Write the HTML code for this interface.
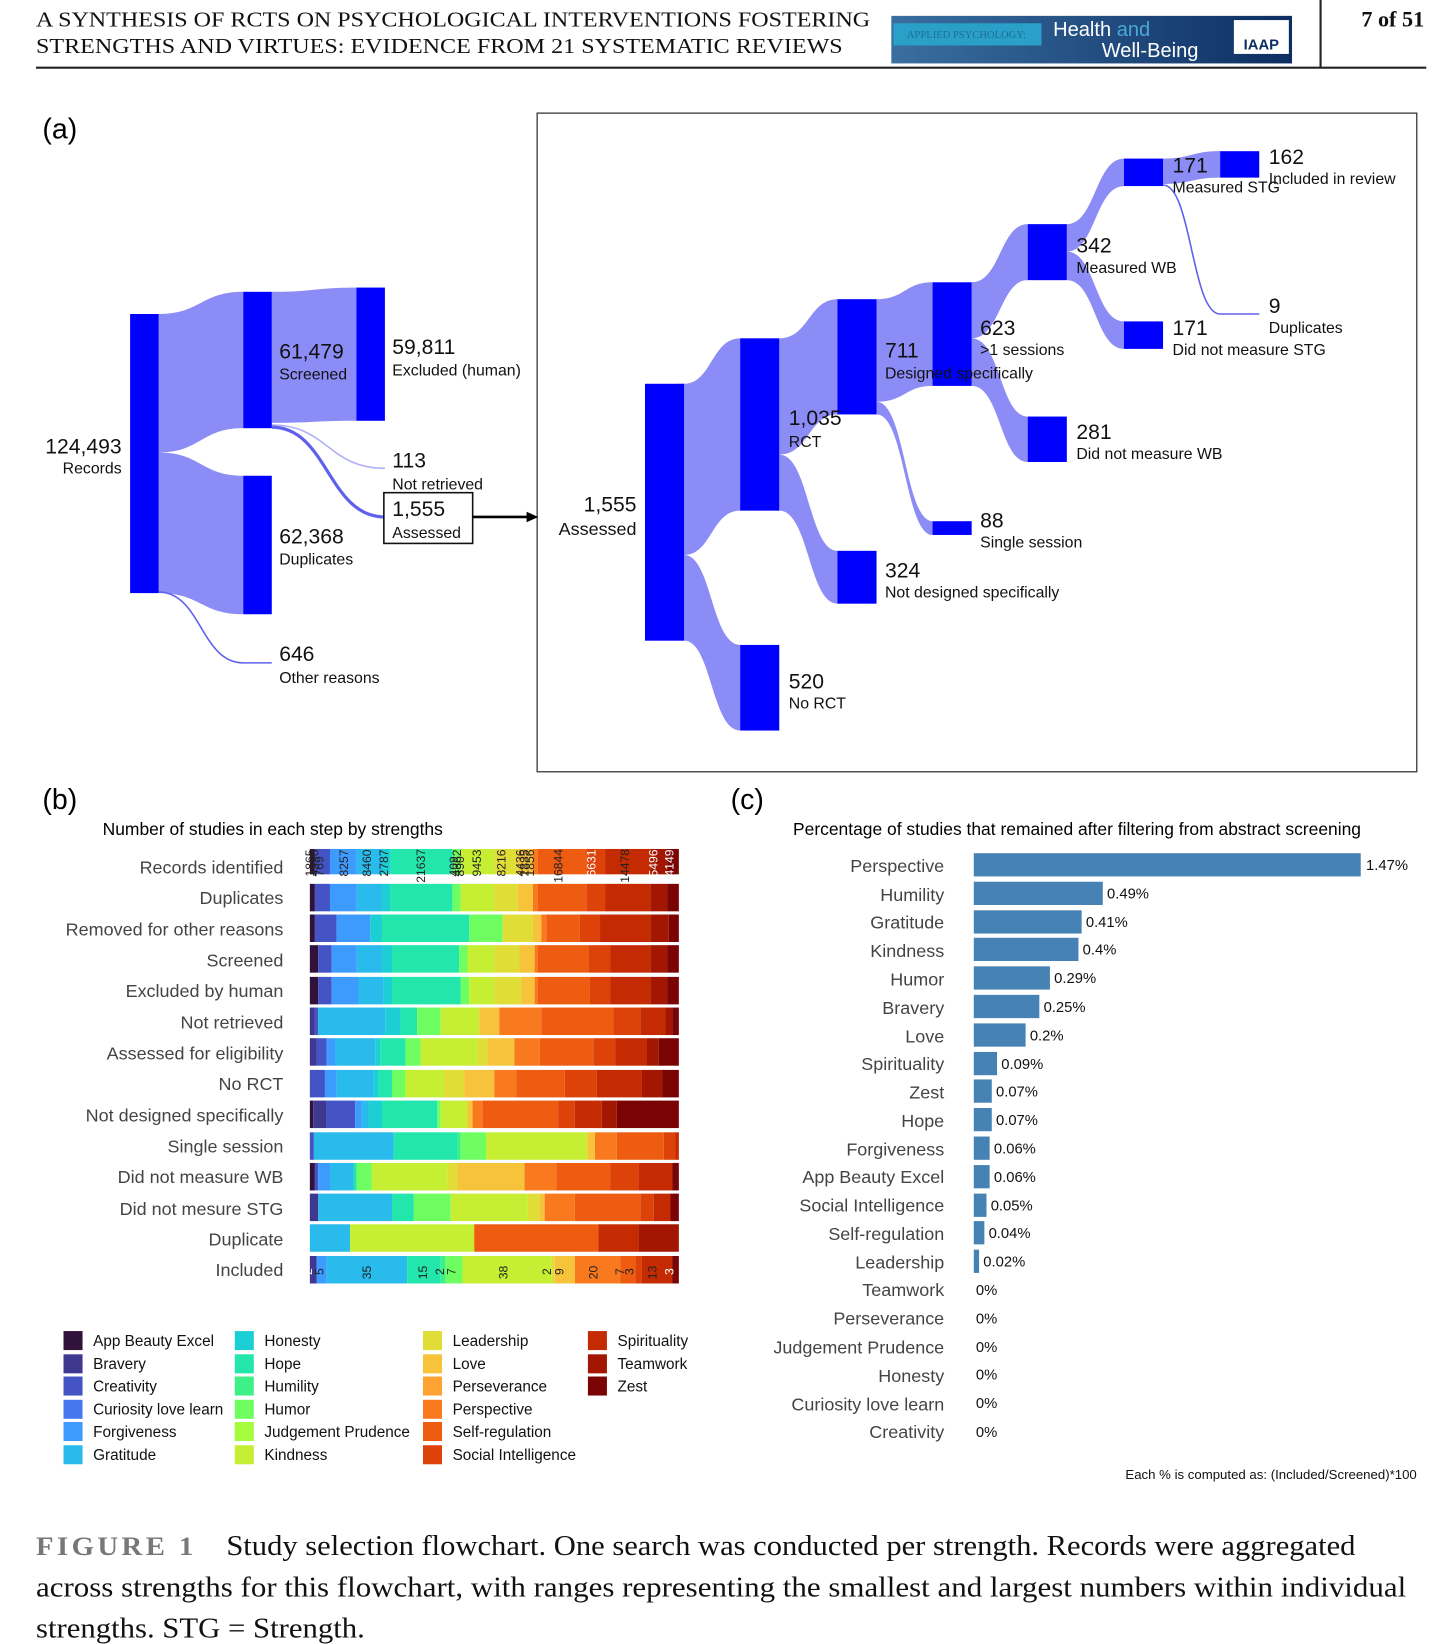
<!DOCTYPE html>
<html><head><meta charset="utf-8"><style>html,body{margin:0;padding:0;background:#fff}svg{display:block}</style></head><body>
<svg width="1438" height="1644" viewBox="0 0 1360 1555" xmlns="http://www.w3.org/2000/svg" font-family="Liberation Sans, sans-serif">
<defs><linearGradient id="lg" x1="0" x2="1"><stop offset="0" stop-color="#3a6fa0"/><stop offset="1" stop-color="#0d2e62"/></linearGradient></defs>
<!-- header -->
<g font-family="Liberation Serif, serif" font-size="20" fill="#111">
<text x="34" y="25" textLength="789" lengthAdjust="spacingAndGlyphs">A SYNTHESIS OF RCTS ON PSYCHOLOGICAL INTERVENTIONS FOSTERING</text>
<text x="34" y="50" textLength="763" lengthAdjust="spacingAndGlyphs">STRENGTHS AND VIRTUES: EVIDENCE FROM 21 SYSTEMATIC REVIEWS</text>
<text x="1347" y="25" text-anchor="end" font-weight="bold" font-size="21">7 of 51</text>
</g>
<rect x="843" y="15" width="379" height="45" fill="url(#lg)"/>
<rect x="845" y="22" width="140" height="21" fill="#2aa0c8"/>
<text x="914" y="36" font-family="Liberation Serif, serif" font-size="10" fill="#1a6f96" text-anchor="middle">APPLIED PSYCHOLOGY:</text>
<text x="996" y="34" font-size="19" fill="#fff">Health <tspan fill="#4aa8d8">and</tspan></text>
<text x="1042" y="54" font-size="19" fill="#fff">Well-Being</text>
<rect x="1167" y="19" width="52" height="32" fill="#fff"/>
<text x="1193" y="47" font-size="14" font-weight="bold" fill="#0d2e62" text-anchor="middle">IAAP</text>
<line x1="1249" y1="0" x2="1249" y2="64" stroke="#222" stroke-width="2"/>
<line x1="34" y1="64" x2="1349" y2="64" stroke="#222" stroke-width="2"/>

<!-- (a) -->
<text x="40" y="131" font-size="27">(a)</text>
<rect x="508" y="107" width="832" height="623" fill="none" stroke="#333" stroke-width="1.2"/>
<g fill="#8c8cf7" stroke="none">
<path d="M150 297 C190 297,190 276,230 276 L230 405 C190 405,190 428,150 428Z"/>
<path d="M150 428 C190 428,190 450,230 450 L230 581 C190 581,190 561,150 561Z"/>
<path d="M257 276 C297 276,297 272,337 272 L337 398 C297 398,297 400,257 400Z"/>
<path d="M647 363 C673 363,673 320,700 320 L700 483 C673 483,673 525,647 525Z"/>
<path d="M610 380 C620 362,640 363,647 363 L647 380Z"/>
<path d="M647 525 C673 525,673 610,700 610 L700 691 C673 691,673 606,647 606Z"/>
<path d="M737 320 C765 320,765 283,792 283 L792 392 C765 392,765 430,737 430Z"/>
<path d="M737 430 C765 430,765 521,792 521 L792 571 C765 571,765 483,737 483Z"/>
<path d="M829 283 C856 283,856 267,882 267 L882 365 C856 365,856 380,829 380Z"/>
<path d="M829 380 C856 380,856 493,882 493 L882 506 C856 506,856 392,829 392Z"/>
<path d="M919 267 C946 267,946 212,972 212 L972 265 C946 265,946 320,919 320Z"/>
<path d="M919 320 C946 320,946 394,972 394 L972 437 C946 437,946 365,919 365Z"/>
<path d="M1009 212 C1036 212,1036 150,1063 150 L1063 176 C1036 176,1036 238,1009 238Z"/>
<path d="M1009 238 C1036 238,1036 304,1063 304 L1063 330 C1036 330,1036 265,1009 265Z"/>
<path d="M1100 150 C1127 150,1127 143,1154 143 L1154 168 C1127 168,1127 174,1100 174Z"/>
</g>
<g fill="none" stroke="#8c8cf7">
<path d="M257 402 C310 402,310 443,364 443" stroke-width="1.5" stroke="#b0b0f5"/>
<path d="M257 404 C310 404,310 489,364 489" stroke-width="3" stroke="#6060ee"/>
<path d="M150 560 C190 560,190 627,230 627 L257 627" stroke-width="1.5" stroke="#6060ee"/>
<path d="M1100 175 C1127 175,1127 297,1154 297 L1191 297" stroke-width="1.5" stroke="#6060ee"/>
</g>
<g fill="#0000ff">
<rect x="123" y="297" width="27" height="264"/>
<rect x="230" y="276" width="27" height="129"/>
<rect x="230" y="450" width="27" height="131"/>
<rect x="337" y="272" width="27" height="126"/>
<rect x="610" y="363" width="37" height="243"/>
<rect x="700" y="320" width="37" height="163"/>
<rect x="700" y="610" width="37" height="81"/>
<rect x="792" y="283" width="37" height="109"/>
<rect x="792" y="521" width="37" height="50"/>
<rect x="882" y="267" width="37" height="98"/>
<rect x="882" y="493" width="37" height="13"/>
<rect x="972" y="212" width="37" height="53"/>
<rect x="972" y="394" width="37" height="43"/>
<rect x="1063" y="150" width="37" height="26"/>
<rect x="1063" y="304" width="37" height="26"/>
<rect x="1154" y="143" width="37" height="25"/>
</g>
<rect x="363" y="466" width="84" height="48" fill="#fff" stroke="#111" stroke-width="1.5"/>
<line x1="447" y1="489" x2="500" y2="489" stroke="#000" stroke-width="2.5"/>
<path d="M509 489 L498 484 L498 494Z" fill="#000"/>
<g fill="#111">
<g font-size="20">
<text x="115" y="429" text-anchor="end">124,493</text>
<text x="264" y="339">61,479</text>
<text x="371" y="335">59,811</text>
<text x="371" y="442">113</text>
<text x="371" y="488">1,555</text>
<text x="264" y="514">62,368</text>
<text x="264" y="625">646</text>
<text x="602" y="484" text-anchor="end">1,555</text>
<text x="746" y="402">1,035</text>
<text x="746" y="651">520</text>
<text x="837" y="338">711</text>
<text x="837" y="546">324</text>
<text x="927" y="317">623</text>
<text x="927" y="499">88</text>
<text x="1018" y="239">342</text>
<text x="1018" y="415">281</text>
<text x="1109" y="163">171</text>
<text x="1109" y="317">171</text>
<text x="1200" y="155">162</text>
<text x="1200" y="296">9</text>
</g>
<g font-size="15">
<text x="115" y="448" text-anchor="end">Records</text>
<text x="264" y="359">Screened</text>
<text x="371" y="355">Excluded (human)</text>
<text x="371" y="463">Not retrieved</text>
<text x="371" y="509">Assessed</text>
<text x="264" y="534">Duplicates</text>
<text x="264" y="646">Other reasons</text>
<text x="602" y="506" text-anchor="end" font-size="17">Assessed</text>
<text x="746" y="423">RCT</text>
<text x="746" y="670">No RCT</text>
<text x="837" y="358">Designed specifically</text>
<text x="837" y="565">Not designed specifically</text>
<text x="927" y="336">&gt;1 sessions</text>
<text x="927" y="518">Single session</text>
<text x="1018" y="258">Measured WB</text>
<text x="1018" y="434">Did not measure WB</text>
<text x="1109" y="182">Measured STG</text>
<text x="1109" y="336">Did not measure STG</text>
<text x="1200" y="174">Included in review</text>
<text x="1200" y="315">Duplicates</text>
</g>
</g>

<!-- (b) -->
<text x="40" y="765" font-size="27">(b)</text>
<text x="97" y="790" font-size="16.5">Number of studies in each step by strengths</text>
<g font-size="17" fill="#444" text-anchor="end">
<text x="268" y="826">Records identified</text>
<text x="268" y="855">Duplicates</text>
<text x="268" y="885">Removed for other reasons</text>
<text x="268" y="914">Screened</text>
<text x="268" y="943">Excluded by human</text>
<text x="268" y="973">Not retrieved</text>
<text x="268" y="1002">Assessed for eligibility</text>
<text x="268" y="1031">No RCT</text>
<text x="268" y="1061">Not designed specifically</text>
<text x="268" y="1090">Single session</text>
<text x="268" y="1119">Did not measure WB</text>
<text x="268" y="1149">Did not mesure STG</text>
<text x="268" y="1178">Duplicate</text>
<text x="268" y="1207">Included</text>
</g>
<g transform="translate(293,0) scale(0.3173,1)">
<g transform="translate(0,803)">
<rect x="0" width="15" height="24" fill="#30123b"/><rect x="15" width="45" height="24" fill="#4454c4"/><rect x="60" width="80" height="24" fill="#3e9bfe"/><rect x="140" width="75" height="24" fill="#28bbec"/><rect x="215" width="25" height="24" fill="#1bcfd4"/><rect x="240" width="185" height="24" fill="#22e6ac"/><rect x="425" width="25" height="24" fill="#6efe61"/><rect x="450" width="100" height="24" fill="#c6ef34"/><rect x="550" width="70" height="24" fill="#e1dd37"/><rect x="620" width="45" height="24" fill="#f6c33a"/><rect x="665" width="15" height="24" fill="#f9791e"/><rect x="680" width="145" height="24" fill="#ee5c12"/><rect x="825" width="55" height="24" fill="#dd4309"/><rect x="880" width="135" height="24" fill="#c52b03"/><rect x="1015" width="50" height="24" fill="#a31601"/><rect x="1065" width="35" height="24" fill="#7a0403"/>
</g>
<g transform="translate(0,836)">
<rect x="0" width="15" height="26" fill="#30123b"/><rect x="15" width="45" height="26" fill="#4454c4"/><rect x="60" width="80" height="26" fill="#3e9bfe"/><rect x="140" width="75" height="26" fill="#28bbec"/><rect x="215" width="25" height="26" fill="#1bcfd4"/><rect x="240" width="185" height="26" fill="#22e6ac"/><rect x="425" width="25" height="26" fill="#6efe61"/><rect x="450" width="100" height="26" fill="#c6ef34"/><rect x="550" width="70" height="26" fill="#e1dd37"/><rect x="620" width="45" height="26" fill="#f6c33a"/><rect x="665" width="15" height="26" fill="#f9791e"/><rect x="680" width="145" height="26" fill="#ee5c12"/><rect x="825" width="55" height="26" fill="#dd4309"/><rect x="880" width="135" height="26" fill="#c52b03"/><rect x="1015" width="50" height="26" fill="#a31601"/><rect x="1065" width="35" height="26" fill="#7a0403"/>
</g>
<g transform="translate(0,865)">
<rect x="0" width="15" height="26" fill="#30123b"/><rect x="15" width="65" height="26" fill="#4454c4"/><rect x="80" width="100" height="26" fill="#3e9bfe"/><rect x="180" width="35" height="26" fill="#1bcfd4"/><rect x="215" width="260" height="26" fill="#22e6ac"/><rect x="475" width="100" height="26" fill="#6efe61"/><rect x="575" width="90" height="26" fill="#e1dd37"/><rect x="665" width="25" height="26" fill="#f6c33a"/><rect x="690" width="15" height="26" fill="#f9791e"/><rect x="705" width="100" height="26" fill="#ee5c12"/><rect x="805" width="60" height="26" fill="#dd4309"/><rect x="865" width="150" height="26" fill="#c52b03"/><rect x="1015" width="55" height="26" fill="#a31601"/><rect x="1070" width="30" height="26" fill="#7a0403"/>
</g>
<g transform="translate(0,894)">
<rect x="0" width="25" height="26" fill="#30123b"/><rect x="25" width="40" height="26" fill="#4454c4"/><rect x="65" width="75" height="26" fill="#3e9bfe"/><rect x="140" width="75" height="26" fill="#28bbec"/><rect x="215" width="30" height="26" fill="#1bcfd4"/><rect x="245" width="200" height="26" fill="#22e6ac"/><rect x="445" width="25" height="26" fill="#6efe61"/><rect x="470" width="80" height="26" fill="#c6ef34"/><rect x="550" width="75" height="26" fill="#e1dd37"/><rect x="625" width="45" height="26" fill="#f6c33a"/><rect x="670" width="10" height="26" fill="#f9791e"/><rect x="680" width="150" height="26" fill="#ee5c12"/><rect x="830" width="65" height="26" fill="#dd4309"/><rect x="895" width="120" height="26" fill="#c52b03"/><rect x="1015" width="50" height="26" fill="#a31601"/><rect x="1065" width="35" height="26" fill="#7a0403"/>
</g>
<g transform="translate(0,924)">
<rect x="0" width="25" height="26" fill="#30123b"/><rect x="25" width="40" height="26" fill="#4454c4"/><rect x="65" width="80" height="26" fill="#3e9bfe"/><rect x="145" width="75" height="26" fill="#28bbec"/><rect x="220" width="25" height="26" fill="#1bcfd4"/><rect x="245" width="205" height="26" fill="#22e6ac"/><rect x="450" width="25" height="26" fill="#6efe61"/><rect x="475" width="75" height="26" fill="#c6ef34"/><rect x="550" width="80" height="26" fill="#e1dd37"/><rect x="630" width="40" height="26" fill="#f6c33a"/><rect x="670" width="10" height="26" fill="#f9791e"/><rect x="680" width="155" height="26" fill="#ee5c12"/><rect x="835" width="60" height="26" fill="#dd4309"/><rect x="895" width="120" height="26" fill="#c52b03"/><rect x="1015" width="50" height="26" fill="#a31601"/><rect x="1065" width="35" height="26" fill="#7a0403"/>
</g>
<g transform="translate(0,953)">
<rect x="0" width="15" height="26" fill="#3e3891"/><rect x="15" width="10" height="26" fill="#4454c4"/><rect x="25" width="200" height="26" fill="#28bbec"/><rect x="225" width="45" height="26" fill="#1bcfd4"/><rect x="270" width="50" height="26" fill="#22e6ac"/><rect x="320" width="70" height="26" fill="#6efe61"/><rect x="390" width="115" height="26" fill="#c6ef34"/><rect x="505" width="60" height="26" fill="#f6c33a"/><rect x="565" width="125" height="26" fill="#f9791e"/><rect x="690" width="215" height="26" fill="#ee5c12"/><rect x="905" width="80" height="26" fill="#dd4309"/><rect x="985" width="75" height="26" fill="#c52b03"/><rect x="1060" width="20" height="26" fill="#a31601"/><rect x="1080" width="20" height="26" fill="#7a0403"/>
</g>
<g transform="translate(0,982)">
<rect x="0" width="20" height="26" fill="#3e3891"/><rect x="20" width="30" height="26" fill="#4454c4"/><rect x="50" width="25" height="26" fill="#3e9bfe"/><rect x="75" width="120" height="26" fill="#28bbec"/><rect x="195" width="15" height="26" fill="#1bcfd4"/><rect x="210" width="75" height="26" fill="#22e6ac"/><rect x="285" width="45" height="26" fill="#6efe61"/><rect x="330" width="170" height="26" fill="#c6ef34"/><rect x="500" width="30" height="26" fill="#e1dd37"/><rect x="530" width="80" height="26" fill="#f6c33a"/><rect x="610" width="75" height="26" fill="#f9791e"/><rect x="685" width="160" height="26" fill="#ee5c12"/><rect x="845" width="65" height="26" fill="#dd4309"/><rect x="910" width="95" height="26" fill="#c52b03"/><rect x="1005" width="35" height="26" fill="#a31601"/><rect x="1040" width="60" height="26" fill="#7a0403"/>
</g>
<g transform="translate(0,1012)">
<rect x="0" width="45" height="26" fill="#4454c4"/><rect x="45" width="35" height="26" fill="#3e9bfe"/><rect x="80" width="110" height="26" fill="#28bbec"/><rect x="190" width="15" height="26" fill="#1bcfd4"/><rect x="205" width="40" height="26" fill="#22e6ac"/><rect x="245" width="40" height="26" fill="#6efe61"/><rect x="285" width="115" height="26" fill="#c6ef34"/><rect x="400" width="60" height="26" fill="#e1dd37"/><rect x="460" width="90" height="26" fill="#f6c33a"/><rect x="550" width="65" height="26" fill="#f9791e"/><rect x="615" width="145" height="26" fill="#ee5c12"/><rect x="760" width="95" height="26" fill="#dd4309"/><rect x="855" width="135" height="26" fill="#c52b03"/><rect x="990" width="60" height="26" fill="#a31601"/><rect x="1050" width="50" height="26" fill="#7a0403"/>
</g>
<g transform="translate(0,1041)">
<rect x="0" width="10" height="26" fill="#30123b"/><rect x="10" width="40" height="26" fill="#3e3891"/><rect x="50" width="85" height="26" fill="#4454c4"/><rect x="135" width="20" height="26" fill="#3e9bfe"/><rect x="155" width="20" height="26" fill="#28bbec"/><rect x="175" width="40" height="26" fill="#1bcfd4"/><rect x="215" width="165" height="26" fill="#22e6ac"/><rect x="380" width="10" height="26" fill="#6efe61"/><rect x="390" width="80" height="26" fill="#c6ef34"/><rect x="470" width="15" height="26" fill="#f6c33a"/><rect x="485" width="30" height="26" fill="#f9791e"/><rect x="515" width="225" height="26" fill="#ee5c12"/><rect x="740" width="50" height="26" fill="#dd4309"/><rect x="790" width="80" height="26" fill="#c52b03"/><rect x="870" width="45" height="26" fill="#a31601"/><rect x="915" width="185" height="26" fill="#7a0403"/>
</g>
<g transform="translate(0,1071)">
<rect x="0" width="12" height="26" fill="#4454c4"/><rect x="12" width="238" height="26" fill="#28bbec"/><rect x="250" width="190" height="26" fill="#22e6ac"/><rect x="440" width="10" height="26" fill="#3ef186"/><rect x="450" width="75" height="26" fill="#6efe61"/><rect x="525" width="302" height="26" fill="#c6ef34"/><rect x="827" width="23" height="26" fill="#f6c33a"/><rect x="850" width="65" height="26" fill="#f9791e"/><rect x="915" width="140" height="26" fill="#ee5c12"/><rect x="1055" width="35" height="26" fill="#dd4309"/><rect x="1090" width="10" height="26" fill="#c52b03"/>
</g>
<g transform="translate(0,1100)">
<rect x="0" width="15" height="26" fill="#30123b"/><rect x="15" width="10" height="26" fill="#4454c4"/><rect x="25" width="35" height="26" fill="#3e9bfe"/><rect x="60" width="70" height="26" fill="#28bbec"/><rect x="130" width="10" height="26" fill="#22e6ac"/><rect x="140" width="45" height="26" fill="#6efe61"/><rect x="185" width="225" height="26" fill="#c6ef34"/><rect x="410" width="30" height="26" fill="#e1dd37"/><rect x="440" width="200" height="26" fill="#f6c33a"/><rect x="640" width="95" height="26" fill="#f9791e"/><rect x="735" width="160" height="26" fill="#ee5c12"/><rect x="895" width="85" height="26" fill="#dd4309"/><rect x="980" width="100" height="26" fill="#c52b03"/><rect x="1080" width="20" height="26" fill="#7a0403"/>
</g>
<g transform="translate(0,1129)">
<rect x="0" width="25" height="26" fill="#3e3891"/><rect x="25" width="220" height="26" fill="#28bbec"/><rect x="245" width="65" height="26" fill="#22e6ac"/><rect x="310" width="110" height="26" fill="#6efe61"/><rect x="420" width="230" height="26" fill="#c6ef34"/><rect x="650" width="35" height="26" fill="#e1dd37"/><rect x="685" width="15" height="26" fill="#f6c33a"/><rect x="700" width="90" height="26" fill="#f9791e"/><rect x="790" width="195" height="26" fill="#ee5c12"/><rect x="985" width="40" height="26" fill="#dd4309"/><rect x="1025" width="50" height="26" fill="#c52b03"/><rect x="1075" width="25" height="26" fill="#7a0403"/>
</g>
<g transform="translate(0,1158)">
<rect x="0" width="120" height="26" fill="#28bbec"/><rect x="120" width="370" height="26" fill="#c6ef34"/><rect x="490" width="370" height="26" fill="#ee5c12"/><rect x="860" width="120" height="26" fill="#c52b03"/><rect x="980" width="120" height="26" fill="#a31601"/>
</g>
<g transform="translate(0,1188)">
<rect x="0" width="20" height="26" fill="#3e3891"/><rect x="20" width="30" height="26" fill="#3e9bfe"/><rect x="50" width="240" height="26" fill="#28bbec"/><rect x="290" width="100" height="26" fill="#22e6ac"/><rect x="390" width="15" height="26" fill="#3ef186"/><rect x="405" width="50" height="26" fill="#6efe61"/><rect x="455" width="265" height="26" fill="#c6ef34"/><rect x="720" width="10" height="26" fill="#e1dd37"/><rect x="730" width="60" height="26" fill="#f6c33a"/><rect x="790" width="135" height="26" fill="#f9791e"/><rect x="925" width="45" height="26" fill="#ee5c12"/><rect x="970" width="20" height="26" fill="#dd4309"/><rect x="990" width="90" height="26" fill="#c52b03"/><rect x="1080" width="20" height="26" fill="#7a0403"/>
</g>
</g>
<g font-size="11.5" fill="#222">
<g transform="translate(297,829) rotate(-90)"><text>1865</text></g>
<g transform="translate(301,829) rotate(-90)"><text>4396</text></g>
<g transform="translate(306,829) rotate(-90)"><text>769</text></g>
<g transform="translate(329,829) rotate(-90)"><text>8257</text></g>
<g transform="translate(351,829) rotate(-90)"><text>8460</text></g>
<g transform="translate(367,829) rotate(-90)"><text>2787</text></g>
<g transform="translate(402,835) rotate(-90)"><text>21637</text></g>
<g transform="translate(433,829) rotate(-90)"><text>409</text></g>
<g transform="translate(436,829) rotate(-90)"><text>4362</text></g>
<g transform="translate(439,829) rotate(-90)"><text>890</text></g>
<g transform="translate(455,829) rotate(-90)"><text>9453</text></g>
<g transform="translate(478,829) rotate(-90)"><text>8216</text></g>
<g transform="translate(496,829) rotate(-90)"><text>4436</text></g>
<g transform="translate(500,829) rotate(-90)"><text>1835</text></g>
<g transform="translate(505,829) rotate(-90)"><text>1856</text></g>
<g transform="translate(532,835) rotate(-90)"><text>16844</text></g>
<g transform="translate(563,829) rotate(-90)"><text fill="#fff">6631</text></g>
<g transform="translate(595,835) rotate(-90)"><text>14478</text></g>
<g transform="translate(622,829) rotate(-90)"><text fill="#fff">5496</text></g>
<g transform="translate(637,829) rotate(-90)"><text fill="#fff">4149</text></g>
</g>
<g font-size="11.5" fill="#222">
<g transform="translate(295,1206) rotate(-90)"><text fill="#fff">2</text></g>
<g transform="translate(306,1206) rotate(-90)"><text>5</text></g>
<g transform="translate(351,1210) rotate(-90)"><text>35</text></g>
<g transform="translate(404,1210) rotate(-90)"><text>15</text></g>
<g transform="translate(420,1206) rotate(-90)"><text>2</text></g>
<g transform="translate(431,1206) rotate(-90)"><text>7</text></g>
<g transform="translate(480,1210) rotate(-90)"><text>38</text></g>
<g transform="translate(521,1206) rotate(-90)"><text>2</text></g>
<g transform="translate(533,1206) rotate(-90)"><text>9</text></g>
<g transform="translate(565,1210) rotate(-90)"><text>20</text></g>
<g transform="translate(590,1206) rotate(-90)"><text>7</text></g>
<g transform="translate(599,1206) rotate(-90)"><text>3</text></g>
<g transform="translate(621,1210) rotate(-90)"><text>13</text></g>
<g transform="translate(637,1206) rotate(-90)"><text fill="#fff">3</text></g>
</g>
<!-- legend -->
<g font-size="14.5" fill="#111">
<rect x="60" y="1259" width="18" height="18" fill="#30123b"/><text x="88" y="1273">App Beauty Excel</text>
<rect x="60" y="1281" width="18" height="18" fill="#3e3891"/><text x="88" y="1295">Bravery</text>
<rect x="60" y="1302" width="18" height="18" fill="#4454c4"/><text x="88" y="1316">Creativity</text>
<rect x="60" y="1324" width="18" height="18" fill="#4777ef"/><text x="88" y="1338">Curiosity love learn</text>
<rect x="60" y="1345" width="18" height="18" fill="#3e9bfe"/><text x="88" y="1359">Forgiveness</text>
<rect x="60" y="1367" width="18" height="18" fill="#28bbec"/><text x="88" y="1381">Gratitude</text>
<rect x="222" y="1259" width="18" height="18" fill="#1bcfd4"/><text x="250" y="1273">Honesty</text>
<rect x="222" y="1281" width="18" height="18" fill="#22e6ac"/><text x="250" y="1295">Hope</text>
<rect x="222" y="1302" width="18" height="18" fill="#3ef186"/><text x="250" y="1316">Humility</text>
<rect x="222" y="1324" width="18" height="18" fill="#6efe61"/><text x="250" y="1338">Humor</text>
<rect x="222" y="1345" width="18" height="18" fill="#a4fc3c"/><text x="250" y="1359">Judgement Prudence</text>
<rect x="222" y="1367" width="18" height="18" fill="#c6ef34"/><text x="250" y="1381">Kindness</text>
<rect x="400" y="1259" width="18" height="18" fill="#e1dd37"/><text x="428" y="1273">Leadership</text>
<rect x="400" y="1281" width="18" height="18" fill="#f6c33a"/><text x="428" y="1295">Love</text>
<rect x="400" y="1302" width="18" height="18" fill="#fea331"/><text x="428" y="1316">Perseverance</text>
<rect x="400" y="1324" width="18" height="18" fill="#f9791e"/><text x="428" y="1338">Perspective</text>
<rect x="400" y="1345" width="18" height="18" fill="#ee5c12"/><text x="428" y="1359">Self-regulation</text>
<rect x="400" y="1367" width="18" height="18" fill="#dd4309"/><text x="428" y="1381">Social Intelligence</text>
<rect x="556" y="1259" width="18" height="18" fill="#c52b03"/><text x="584" y="1273">Spirituality</text>
<rect x="556" y="1281" width="18" height="18" fill="#a31601"/><text x="584" y="1295">Teamwork</text>
<rect x="556" y="1302" width="18" height="18" fill="#7a0403"/><text x="584" y="1316">Zest</text>
</g>

<!-- (c) -->
<text x="691" y="765" font-size="27">(c)</text>
<text x="750" y="790" font-size="16.5">Percentage of studies that remained after filtering from abstract screening</text>
<g fill="#4682b4">
<rect x="921" y="807" width="366" height="22"/>
<rect x="921" y="834" width="122" height="22"/>
<rect x="921" y="861" width="102" height="22"/>
<rect x="921" y="887" width="99" height="22"/>
<rect x="921" y="914" width="72" height="22"/>
<rect x="921" y="941" width="62" height="22"/>
<rect x="921" y="968" width="49" height="22"/>
<rect x="921" y="995" width="22" height="22"/>
<rect x="921" y="1021" width="17" height="22"/>
<rect x="921" y="1048" width="17" height="22"/>
<rect x="921" y="1075" width="15" height="22"/>
<rect x="921" y="1102" width="15" height="22"/>
<rect x="921" y="1129" width="12" height="22"/>
<rect x="921" y="1155" width="10" height="22"/>
<rect x="921" y="1182" width="5" height="22"/>
</g>
<g font-size="17" fill="#444" text-anchor="end">
<text x="893" y="825">Perspective</text><text x="893" y="852">Humility</text><text x="893" y="878">Gratitude</text><text x="893" y="905">Kindness</text><text x="893" y="932">Humor</text><text x="893" y="959">Bravery</text><text x="893" y="986">Love</text><text x="893" y="1012">Spirituality</text><text x="893" y="1039">Zest</text><text x="893" y="1066">Hope</text><text x="893" y="1093">Forgiveness</text><text x="893" y="1119">App Beauty Excel</text><text x="893" y="1146">Social Intelligence</text><text x="893" y="1173">Self-regulation</text><text x="893" y="1200">Leadership</text><text x="893" y="1226">Teamwork</text><text x="893" y="1253">Perseverance</text><text x="893" y="1280">Judgement Prudence</text><text x="893" y="1307">Honesty</text><text x="893" y="1334">Curiosity love learn</text><text x="893" y="1360">Creativity</text>
</g>
<g font-size="14" fill="#111">
<text x="1292" y="823">1.47%</text><text x="1047" y="850">0.49%</text><text x="1027" y="877">0.41%</text><text x="1024" y="903">0.4%</text><text x="997" y="930">0.29%</text><text x="987" y="957">0.25%</text><text x="974" y="984">0.2%</text><text x="947" y="1011">0.09%</text><text x="942" y="1037">0.07%</text><text x="942" y="1064">0.07%</text><text x="940" y="1091">0.06%</text><text x="940" y="1118">0.06%</text><text x="937" y="1145">0.05%</text><text x="935" y="1171">0.04%</text><text x="930" y="1198">0.02%</text><text x="923" y="1225">0%</text><text x="923" y="1252">0%</text><text x="923" y="1279">0%</text><text x="923" y="1305">0%</text><text x="923" y="1332">0%</text><text x="923" y="1359">0%</text>
</g>
<text x="1340" y="1399" font-size="12.5" text-anchor="end" fill="#111">Each % is computed as: (Included/Screened)*100</text>

<!-- caption -->
<g font-family="Liberation Serif, serif" font-size="27" fill="#111">
<text x="34" y="1471" fill="#777" letter-spacing="3" font-weight="bold" font-size="25" textLength="152" lengthAdjust="spacingAndGlyphs">FIGURE 1</text>
<text x="214" y="1471" textLength="1068" lengthAdjust="spacingAndGlyphs">Study selection flowchart. One search was conducted per strength. Records were aggregated</text>
<text x="34" y="1510" textLength="1296" lengthAdjust="spacingAndGlyphs">across strengths for this flowchart, with ranges representing the smallest and largest numbers within individual</text>
<text x="34" y="1549" textLength="311" lengthAdjust="spacingAndGlyphs">strengths. STG = Strength.</text>
</g>
</svg>
</body></html>
